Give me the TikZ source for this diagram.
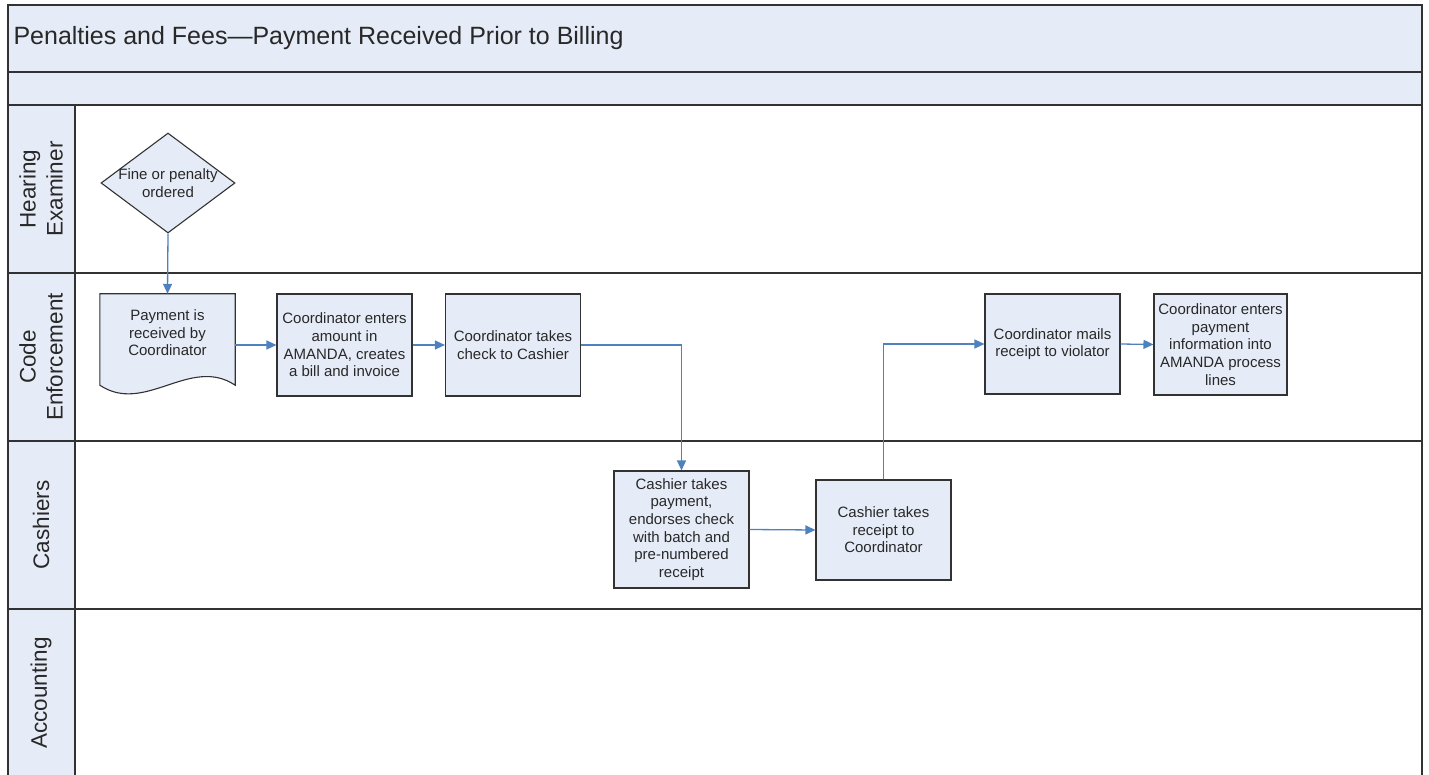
\documentclass[tikz,border=0pt]{standalone}
\usepackage{fontspec}
\setmainfont{Liberation Sans}
\usetikzlibrary{shapes.geometric,arrows.meta,backgrounds}
\definecolor{lanefill}{RGB}{230,236,247}
\definecolor{flowblue}{RGB}{79,129,189}
\definecolor{edgegray}{RGB}{50,50,50}
\definecolor{inkgray}{RGB}{40,40,40}
\tikzset{
  lanebox/.style={draw=edgegray, line width=1.3pt, fill=lanefill},
  laneline/.style={draw=edgegray, line width=1.3pt},
  lanetext/.style={rotate=90, align=center, text=inkgray, font=\fontsize{22.5}{27}\selectfont},
  titletext/.style={anchor=west, text=inkgray, font=\fontsize{25}{30}\selectfont},
  stepbox/.style={draw=edgegray, line width=1.1pt, fill=lanefill, minimum width=135pt,
    minimum height=102pt, align=center, inner sep=2pt, text=inkgray,
    font=\fontsize{15}{17.6}\selectfont},
  decision/.style={diamond, draw=edgegray, line width=1.1pt, fill=lanefill,
    minimum width=134pt, minimum height=100pt, inner sep=0pt},
  doctext/.style={minimum width=135pt, minimum height=78pt, align=center, inner sep=0pt,
    text=inkgray, font=\fontsize{15}{17.6}\selectfont},
  flow/.style={draw=flowblue, line width=1.3pt, -{Triangle[length=10pt,width=9pt]}}
}
\begin{document}
\begin{tikzpicture}[x=1pt,y=-1pt]
\useasboundingbox (0,0) rectangle (1429,775);

% swimlanes
\begin{scope}
  \clip (0,0) rectangle (1429,775);
  \draw[lanebox] (8,5) rectangle (1422,72);
  \draw[lanebox] (8,72) rectangle (1422,105);
  \draw[lanebox] (8,105) rectangle (75,777);
  \draw[laneline] (75,105) rectangle (1422,777);
  \foreach \y in {273,441,609}
    \draw[laneline] (8,\y) -- (1422,\y);
\end{scope}

\node[titletext] (title) at (10,38.5) {Penalties and Fees—Payment Received Prior to Billing};
\node[lanetext] (hearing) at (41,189) {Hearing\\Examiner};
\node[lanetext] (code) at (41,357) {Code\\Enforcement};
\node[lanetext] (cashiers) at (41,525) {Cashiers};
\node[lanetext] (accounting) at (41,693) {Accounting};

% steps
\node[decision, label={[align=center, text=inkgray, font=\fontsize{15}{17.6}\selectfont]center:Fine or penalty\\ordered}] (fine) at (168,183) {};

\node[doctext] (pay) at (167.5,333) {Payment is\\received by\\Coordinator};
\begin{scope}[on background layer]
  \filldraw[draw=edgegray, line width=1.1pt, fill=lanefill]
    (pay.north west) -- (pay.north east) -- ([yshift=-13pt]pay.south east)
    .. controls +(-45,-30) and +(45,30) .. ([yshift=-13pt]pay.south west) -- cycle;
\end{scope}

\node[stepbox] (enter) at (344.5,345) {Coordinator enters\\amount in\\AMANDA, creates\\a bill and invoice};
\node[stepbox] (take) at (513,345) {Coordinator takes\\check to Cashier};
\node[stepbox, minimum height=117pt] (cashpay) at (681.5,529.5) {Cashier takes\\payment,\\endorses check\\with batch and\\pre-numbered\\receipt};
\node[stepbox, minimum height=100pt] (cashrec) at (883.5,530) {Cashier takes\\receipt to\\Coordinator};
\node[stepbox, minimum height=100pt] (mail) at (1052.5,344) {Coordinator mails\\receipt to violator};
\node[stepbox, minimum width=133pt, minimum height=101pt] (lines) at (1220.5,344.5) {Coordinator enters\\payment\\information into\\AMANDA process\\lines};

% connectors
\draw[flow] (fine.south) -- (pay.north);
\draw[flow] (pay.east |- enter.west) -- (enter.west);
\draw[flow] (enter.east) -- (take.west);
\draw[flow] (take.east) -| (cashpay.north);
\draw[flow] (cashpay.east) -- (cashrec.west);
\draw[flow] (cashrec.north) |- (mail.west);
\draw[flow] (mail.east) -- (lines.west);

\end{tikzpicture}
\end{document}
